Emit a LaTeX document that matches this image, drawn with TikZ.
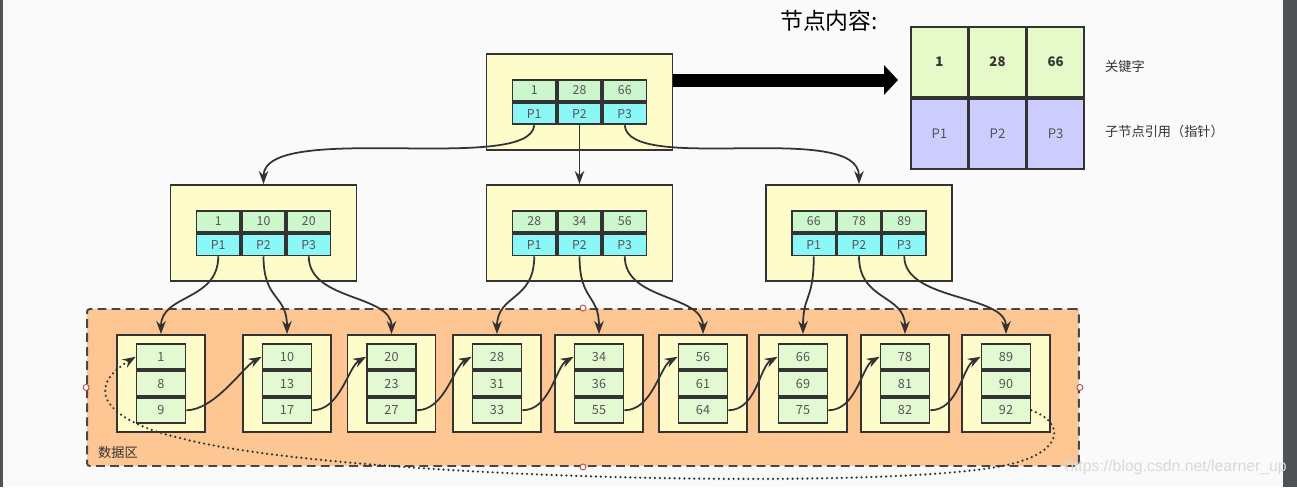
\documentclass[tikz,border=0pt]{standalone}
\usepackage{fontspec}
\setmainfont{Noto Sans CJK SC}
\newfontfamily\urlfont{Liberation Sans}
\usepackage{tikz}
\usetikzlibrary{positioning, arrows.meta}

\definecolor{linegray}{HTML}{333333}
\definecolor{textgray}{HTML}{555555}
\definecolor{boxyellow}{HTML}{FFFCCB}
\definecolor{keygreen}{HTML}{CCF6CC}
\definecolor{leafgreen}{HTML}{E2F9D2}
\definecolor{ptrcyan}{HTML}{8CF7F7}
\definecolor{dataorange}{HTML}{FDC692}
\definecolor{legendlime}{HTML}{E6F9C9}
\definecolor{legendblue}{HTML}{CCCCFF}
\definecolor{framegray}{HTML}{4E5256}

\begin{document}
\begin{tikzpicture}[x=0.02cm, y=-0.02cm,
  outer box/.style={draw=linegray, fill=boxyellow, line width=1.1pt, minimum width=37.2mm, minimum height=19.2mm, inner sep=0pt},
  key cell/.style={draw=linegray, fill=keygreen, line width=1pt, minimum width=8.7mm, minimum height=4.3mm, inner sep=0pt, text=textgray, font=\fontsize{7}{8}\selectfont},
  ptr cell/.style={key cell, fill=ptrcyan},
  leaf box/.style={outer box, minimum width=17.6mm, minimum height=19.4mm},
  leaf cell/.style={key cell, fill=leafgreen, minimum width=9.8mm, minimum height=5mm, font=\fontsize{7.2}{8}\selectfont},
  big key/.style={key cell, fill=legendlime, minimum width=11.27mm, minimum height=14mm, text=linegray, font=\fontsize{7.5}{8}\selectfont\bfseries},
  big ptr/.style={big key, fill=legendblue, text=textgray, font=\fontsize{7.5}{8}\selectfont},
  link/.style={draw=linegray, line width=1pt, -{Stealth[length=2.6mm, width=1.9mm]}},
  loop link/.style={link, line width=1.4pt, dash pattern=on 0pt off 2.8pt, line cap=round},
  data area/.style={draw=linegray!90, fill=dataorange, line width=1.1pt, dash pattern=on 5pt off 3pt, rounded corners=1.5pt, minimum width=198.4mm, minimum height=31.4mm},
  handle/.style={draw=red!45!gray, fill=white, line width=0.5pt},
  label text/.style={text=linegray, font=\fontsize{7.5}{8}\selectfont}]

\useasboundingbox (0,0) rectangle (1297,487);
\fill[white!98!black] (0,0) rectangle (1297,487);
\fill[framegray] (0,0) rectangle (3,487);
\fill[framegray] (1283,0) rectangle (1297,487);

\node[data area] (DA) at (583,387.5) {};
\foreach \s in {north,south,east,west}
  \draw[handle] (DA.\s) circle (3);
\node[label text, anchor=west] (DL) at (92,452) {数据区};

\node[outer box] (R) at (579.5,102) {};
\node[key cell, anchor=south] (Rk2) at (R.center) {28};
\node[key cell, left=0pt of Rk2] (Rk1) {1};
\node[key cell, right=0pt of Rk2] (Rk3) {66};
\node[ptr cell, below=0pt of Rk2] (Rp2) {P2};
\node[ptr cell, left=0pt of Rp2] (Rp1) {P1};
\node[ptr cell, right=0pt of Rp2] (Rp3) {P3};

\node[outer box] (A) at (263.5,233) {};
\node[key cell, anchor=south] (Ak2) at (A.center) {10};
\node[key cell, left=0pt of Ak2] (Ak1) {1};
\node[key cell, right=0pt of Ak2] (Ak3) {20};
\node[ptr cell, below=0pt of Ak2] (Ap2) {P2};
\node[ptr cell, left=0pt of Ap2] (Ap1) {P1};
\node[ptr cell, right=0pt of Ap2] (Ap3) {P3};

\node[outer box] (B) at (579.5,233) {};
\node[key cell, anchor=south] (Bk2) at (B.center) {34};
\node[key cell, left=0pt of Bk2] (Bk1) {28};
\node[key cell, right=0pt of Bk2] (Bk3) {56};
\node[ptr cell, below=0pt of Bk2] (Bp2) {P2};
\node[ptr cell, left=0pt of Bp2] (Bp1) {P1};
\node[ptr cell, right=0pt of Bp2] (Bp3) {P3};

\node[outer box] (C) at (859,233) {};
\node[key cell, anchor=south] (Ck2) at (C.center) {78};
\node[key cell, left=0pt of Ck2] (Ck1) {66};
\node[key cell, right=0pt of Ck2] (Ck3) {89};
\node[ptr cell, below=0pt of Ck2] (Cp2) {P2};
\node[ptr cell, left=0pt of Cp2] (Cp1) {P1};
\node[ptr cell, right=0pt of Cp2] (Cp3) {P3};

\foreach \x/\a/\b/\c [count=\i] in {161/1/8/9, 287/10/13/17, 391.5/20/23/27,
    497/28/31/33, 599/34/36/55, 703/56/61/64, 803/66/69/75, 905/78/81/82, 1006/89/90/92} {
  \node[leaf box] (D\i) at (\x,383.5) {};
  \node[leaf cell] (D\i-2) at (D\i.center) {\b};
  \node[leaf cell, above=0pt of D\i-2] (D\i-1) {\a};
  \node[leaf cell, below=0pt of D\i-2] (D\i-3) {\c};
}

\node[anchor=west, font=\fontsize{13}{15}\selectfont] (T) at (774,21) {节点内容:};
\node[big key, anchor=south] (Kk2) at (997.5,98) {28};
\node[big key, left=0pt of Kk2] (Kk1) {1};
\node[big key, right=0pt of Kk2] (Kk3) {66};
\node[big ptr, below=0pt of Kk2] (Kp2) {P2};
\node[big ptr, left=0pt of Kp2] (Kp1) {P1};
\node[big ptr, right=0pt of Kp2] (Kp3) {P3};
\node[label text, anchor=west] (KL1) at (1099,66) {关键字};
\node[label text, anchor=west] (KL2) at (1099,131) {子节点引用（指针）};

\coordinate (tip) at (898,80);
\draw[line width=2.6mm, -{Triangle[length=2.8mm, width=5.8mm]}] (R.east |- tip) -- (tip);

\draw[link] (Rp1.south) .. controls (530,175) and (263.5,120) .. (A.north);
\draw[link] (Rp2.south) -- (B.north);
\draw[link] (Rp3.south) .. controls (628,175) and (859,120) .. (C.north);

\draw[link] (Ap1.south) .. controls +(0,45) and +(0,-40) .. (D1.north);
\draw[link] (Ap2.south) .. controls +(0,45) and +(0,-40) .. (D2.north);
\draw[link] (Ap3.south) .. controls +(0,45) and +(0,-40) .. (D3.north);
\draw[link] (Bp1.south) .. controls +(0,45) and +(0,-40) .. (D4.north);
\draw[link] (Bp2.south) .. controls +(0,45) and +(0,-40) .. (D5.north);
\draw[link] (Bp3.south) .. controls +(0,45) and +(0,-40) .. (D6.north);
\draw[link] (Cp1.south) .. controls +(0,45) and +(0,-40) .. (D7.north);
\draw[link] (Cp2.south) .. controls +(0,45) and +(0,-40) .. (D8.north);
\draw[link] (Cp3.south) .. controls +(0,45) and +(0,-40) .. (D9.north);

\foreach \i [count=\j from 2] in {1,...,8}
  \draw[link] (D\i-3.east) .. controls +(28,0) and +(-18,10) .. (D\j-1.west);

\draw[loop link] (D9-3.east) .. controls (1070,425) and (1062,458) .. (990,468)
  .. controls (850,490) and (330,478) .. (180,438)
  .. controls (115,423) and (78,392) .. (D1-1.west);

\node[text=black!15, font=\urlfont\fontsize{9}{10}\selectfont] (W) at (1176,467) {https://blog.csdn.net/learner\_up};
\end{tikzpicture}
\end{document}
